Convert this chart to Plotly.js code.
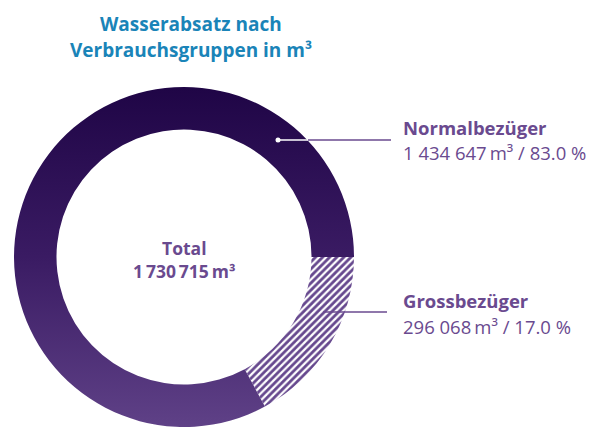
<!DOCTYPE html>
<html>
<head>
<meta charset="utf-8">
<script src="https://cdn.plot.ly/plotly-3.0.1.min.js"></script>
<style>html,body{margin:0;padding:0;background:#fff;overflow:hidden}#chart{width:595px;height:427px}</style>
</head>
<body>
<div id="chart"></div>
<script>
// ---- data ----
const categories = ['Grossbezüger', 'Normalbezüger'];
const values = [296068, 1434647];
const shares = ['17.0 %', '83.0 %'];
const valueLabels = ['296 068', '1 434 647'];
const totalLabel = '1\u2009730\u2009715';
const unit = '\u2009m³';
const titleLines = ['Wasserabsatz nach', 'Verbrauchsgruppen in m³'];

// ---- style ----
const W = 595, H = 427;
const X = p => p / W;
const Y = p => 1 - p / H;
const purpleText = '#6a4a8f';
const blue = '#1a84b8';
const font = 'Open Sans, sans-serif';

const trace = {
  type: 'pie',
  labels: categories,
  values: values,
  sort: false,
  direction: 'clockwise',
  rotation: 90,
  hole: 0.75,
  textinfo: 'none',
  hoverinfo: 'none',
  showlegend: false,
  domain: {x: [X(14), X(354)], y: [0, 340 / H]},
  marker: {
    colors: ['#ffffff', '#3a1a62'],
    line: {width: 0},
    pattern: {
      shape: ['/', ''],
      fgcolor: ['#66488e', '#3a1a62'],
      bgcolor: ['#ffffff', '#3a1a62'],
      size: [5, 5],
      solidity: [0.55, 0.5],
      fillmode: 'replace'
    }
  }
};

const ann = [];
function addText(text, x, y, opts) {
  ann.push(Object.assign({
    text: text, x: X(x), y: Y(y), xref: 'paper', yref: 'paper',
    showarrow: false, xanchor: 'left', yanchor: 'middle', align: 'left',
    font: {family: font, size: 18.5, color: purpleText}
  }, opts || {}));
}
const titleFont = {family: font, size: 19, color: blue};
const totalFont = {family: font, size: 17.5, color: purpleText};
// title
addText('<b>' + titleLines[0] + '</b>', 191, 24, {xanchor: 'center', font: titleFont});
addText('<b>' + titleLines[1] + '</b>', 191, 50, {xanchor: 'center', font: titleFont});
// center
addText('<b>Total</b>', 184, 248, {xanchor: 'center', font: totalFont});
addText('<b>' + totalLabel + unit + '</b>', 184, 271, {xanchor: 'center', font: totalFont});
// Normalbezüger
addText('<b>' + categories[1] + '</b>', 401, 127);
addText(valueLabels[1] + unit + ' / ' + shares[1], 401, 153);
// Grossbezüger
addText('<b>' + categories[0] + '</b>', 401, 300);
addText(valueLabels[0] + unit + ' / ' + shares[0], 401, 326);

const shapes = [
  {type: 'line', xref: 'paper', yref: 'paper', x0: X(278), x1: X(308), y0: Y(140), y1: Y(140), line: {color: '#ffffff', width: 1.5}},
  {type: 'line', xref: 'paper', yref: 'paper', x0: X(308), x1: X(391), y0: Y(140), y1: Y(140), line: {color: purpleText, width: 1.5}},
  {type: 'circle', xref: 'paper', yref: 'paper', x0: X(275.5), x1: X(280.5), y0: Y(137.5), y1: Y(142.5), fillcolor: '#ffffff', line: {width: 0}},
  {type: 'line', xref: 'paper', yref: 'paper', x0: X(323), x1: X(387), y0: Y(312), y1: Y(312), line: {color: purpleText, width: 1.5}}
];

const layout = {
  width: W, height: H,
  margin: {l: 0, r: 0, t: 0, b: 0},
  paper_bgcolor: '#ffffff',
  annotations: ann,
  shapes: shapes
};

Plotly.newPlot('chart', [trace], layout, {staticPlot: true, displayModeBar: false}).then(gd => {
  const svg = gd.querySelector('svg.main-svg');
  let defs = svg.querySelector('defs');
  const ns = 'http://www.w3.org/2000/svg';
  const lg = document.createElementNS(ns, 'linearGradient');
  lg.setAttribute('id', 'ringGrad');
  lg.setAttribute('x1', '0'); lg.setAttribute('y1', '0');
  lg.setAttribute('x2', '0'); lg.setAttribute('y2', '1');
  [['0', '#1f0546'], ['0.5', '#3a1b63'], ['1', '#5f4187']].forEach(([o, c]) => {
    const s = document.createElementNS(ns, 'stop');
    s.setAttribute('offset', o); s.setAttribute('stop-color', c);
    lg.appendChild(s);
  });
  defs.appendChild(lg);
  const slices = gd.querySelectorAll('g.slice path.surface');
  if (slices[1]) slices[1].style.fill = 'url(#ringGrad)';
});
</script>
</body>
</html>
